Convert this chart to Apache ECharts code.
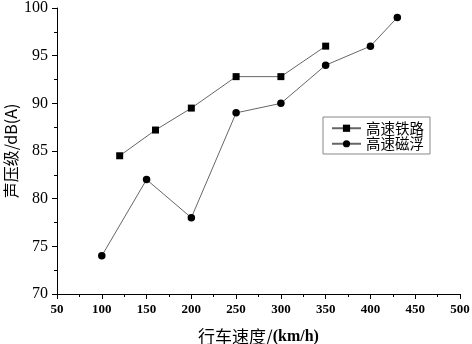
<!DOCTYPE html>
<html><head><meta charset="utf-8">
<script src="https://cdn.jsdelivr.net/npm/echarts@6/dist/echarts.min.js"></script>
<style>html,body{margin:0;padding:0;background:#fff}#c{width:472px;height:344px}</style>
</head><body><div id="c"></div>
<script>
const railX = [120, 160, 200, 250, 300, 350];
const railY = [84.5, 87.2, 89.5, 92.8, 92.8, 96];
const maglevX = [100, 150, 200, 250, 300, 350, 400, 430];
const maglevY = [74, 82, 78, 89, 90, 94, 96, 99];
const seriesNames = ['高速铁路', '高速磁浮'];
const xNameCjk = '行车速度/';
const xNameUnit = '(km/h)';
const yName = '声压级/dB(A)';

const chart = echarts.init(document.getElementById('c'));
const serif = '"Liberation Serif","DejaVu Serif",serif';
const cjk = '"Noto Sans CJK SC","Liberation Serif",serif';
chart.setOption({
  animation: false,
  grid: {left: 57, right: 12, top: 8, bottom: 50, containLabel: false, outerBoundsMode: 'none'},
  xAxis: {
    type: 'value', min: 50, max: 500, interval: 50,
    name: '{a|' + xNameCjk + '}{b|' + xNameUnit + '}', nameLocation: 'middle', nameGap: 34,
    nameMoveOverlap: false,
    nameTextStyle: {
      rich: {
        a: {fontFamily: cjk, fontSize: 17, color: '#000'},
        b: {fontFamily: serif, fontSize: 16, fontWeight: 'bold', color: '#000'}
      }
    },
    axisLine: {lineStyle: {color: '#000', width: 1}},
    axisTick: {show: true, inside: false, length: 5, lineStyle: {color: '#000'}},
    minorTick: {show: true, splitNumber: 2, length: 3, lineStyle: {color: '#000'}},
    axisLabel: {fontFamily: serif, fontSize: 13, fontWeight: 'bold', color: '#000', margin: 9},
    splitLine: {show: false}
  },
  yAxis: {
    type: 'value', min: 70, max: 100, interval: 5,
    name: yName, nameLocation: 'middle', nameGap: 38, nameRotate: 90,
    nameMoveOverlap: false,
    nameTextStyle: {fontFamily: cjk, fontSize: 16, color: '#000'},
    axisLine: {show: true, lineStyle: {color: '#000', width: 1}},
    axisTick: {show: true, inside: false, length: 5, lineStyle: {color: '#000'}},
    minorTick: {show: true, splitNumber: 2, length: 3, lineStyle: {color: '#000'}},
    axisLabel: {fontFamily: serif, fontSize: 16, color: '#000', margin: 9},
    splitLine: {show: false}
  },
  legend: {
    left: 323, top: 117, orient: 'vertical',
    data: seriesNames,
    itemWidth: 29, itemHeight: 9, itemGap: 1,
    borderColor: '#888', borderWidth: 1, padding: [4, 6, 3, 8],
    textStyle: {fontFamily: cjk, fontSize: 14.5, color: '#000'},
    backgroundColor: '#fff'
  },
  series: [
    {
      name: seriesNames[0], type: 'line',
      data: railX.map((x, i) => [x, railY[i]]),
      symbol: 'rect', symbolSize: 7,
      itemStyle: {color: '#000'},
      lineStyle: {color: '#666', width: 1}
    },
    {
      name: seriesNames[1], type: 'line',
      data: maglevX.map((x, i) => [x, maglevY[i]]),
      symbol: 'circle', symbolSize: 7.5,
      itemStyle: {color: '#000'},
      lineStyle: {color: '#666', width: 1}
    }
  ]
});
</script></body></html>
